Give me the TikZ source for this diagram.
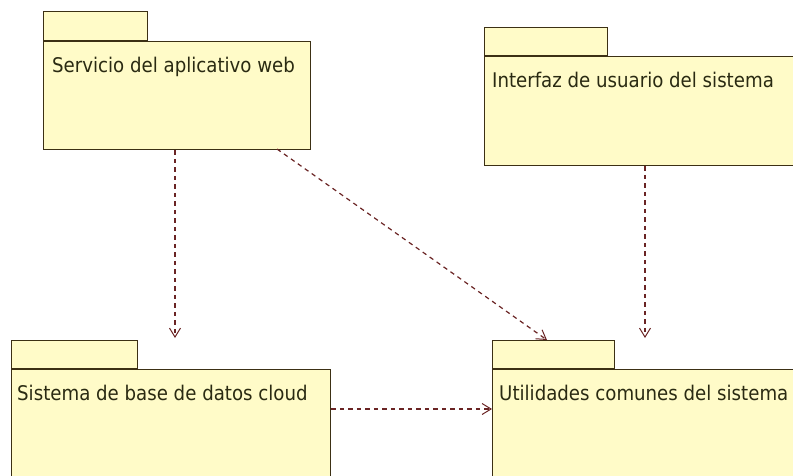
\documentclass[tikz,border=0pt]{standalone}
\usepackage{fontspec}
\setmainfont{DejaVu Sans Condensed}
\usetikzlibrary{arrows.meta}
\definecolor{pkgfill}{HTML}{FFFBC8}
\definecolor{pkgline}{HTML}{3C3014}
\definecolor{deplink}{HTML}{6A2424}
\definecolor{pkgtext}{HTML}{2A2A12}
\tikzset{
  pkgbody/.style={draw=pkgline, fill=pkgfill, line width=1.3pt, rectangle, inner sep=0pt, anchor=north west},
  pkgtab/.style={draw=pkgline, fill=pkgfill, line width=1.3pt, rectangle, inner sep=0pt, anchor=south west},
  pkglabel/.style={anchor=base west, inner sep=0pt, text=pkgtext, font=\fontsize{20.2}{24}\selectfont},
  dependency/.style={draw=deplink, line width=1.2pt, dash pattern=on 4.5pt off 4pt,
    -{Straight Barb[length=9pt, width=11pt, line width=1pt]}}
}
\begin{document}
\begin{tikzpicture}[x=1pt, y=-1pt]
\useasboundingbox (0,0) rectangle (793,475);

% Servicio del aplicativo web
\node[pkgbody, minimum width=267pt, minimum height=108pt] (web) at (43,41) {};
\node[pkgtab, minimum width=104pt, minimum height=29pt] (webtab) at (web.north west) {};
\node[pkglabel] (weblbl) at (52,72) {Servicio del aplicativo web};

% Interfaz de usuario del sistema
\node[pkgbody, minimum width=340pt, minimum height=109pt] (ui) at (484,56) {};
\node[pkgtab, minimum width=123pt, minimum height=28pt] (uitab) at (ui.north west) {};
\node[pkglabel] (uilbl) at (492,87) {Interfaz de usuario del sistema};

% Sistema de base de datos cloud
\node[pkgbody, minimum width=319pt, minimum height=150pt] (db) at (11,369) {};
\node[pkgtab, minimum width=126pt, minimum height=28pt] (dbtab) at (db.north west) {};
\node[pkglabel] (dblbl) at (17,400) {Sistema de base de datos cloud};

% Utilidades comunes del sistema
\node[pkgbody, minimum width=340pt, minimum height=150pt] (util) at (492,369) {};
\node[pkgtab, minimum width=122pt, minimum height=28pt] (utiltab) at (util.north west) {};
\node[pkglabel] (utillbl) at (499,400) {Utilidades comunes del sistema};

% arrow tips (free ends)
\coordinate (tipdb) at (175,338);
\coordinate (tiputil) at (547,340);
\coordinate (tipui) at (645,338);
\coordinate (webdiag) at (277,149);

% dependencies
\draw[dependency] (web.south -| tipdb) -- (tipdb);
\draw[dependency] (webdiag) -- (tiputil);
\draw[dependency] (ui.south -| tipui) -- (tipui);
\draw[dependency] (db.east |- 0,409) -- (util.west |- 0,409);
\end{tikzpicture}
\end{document}
